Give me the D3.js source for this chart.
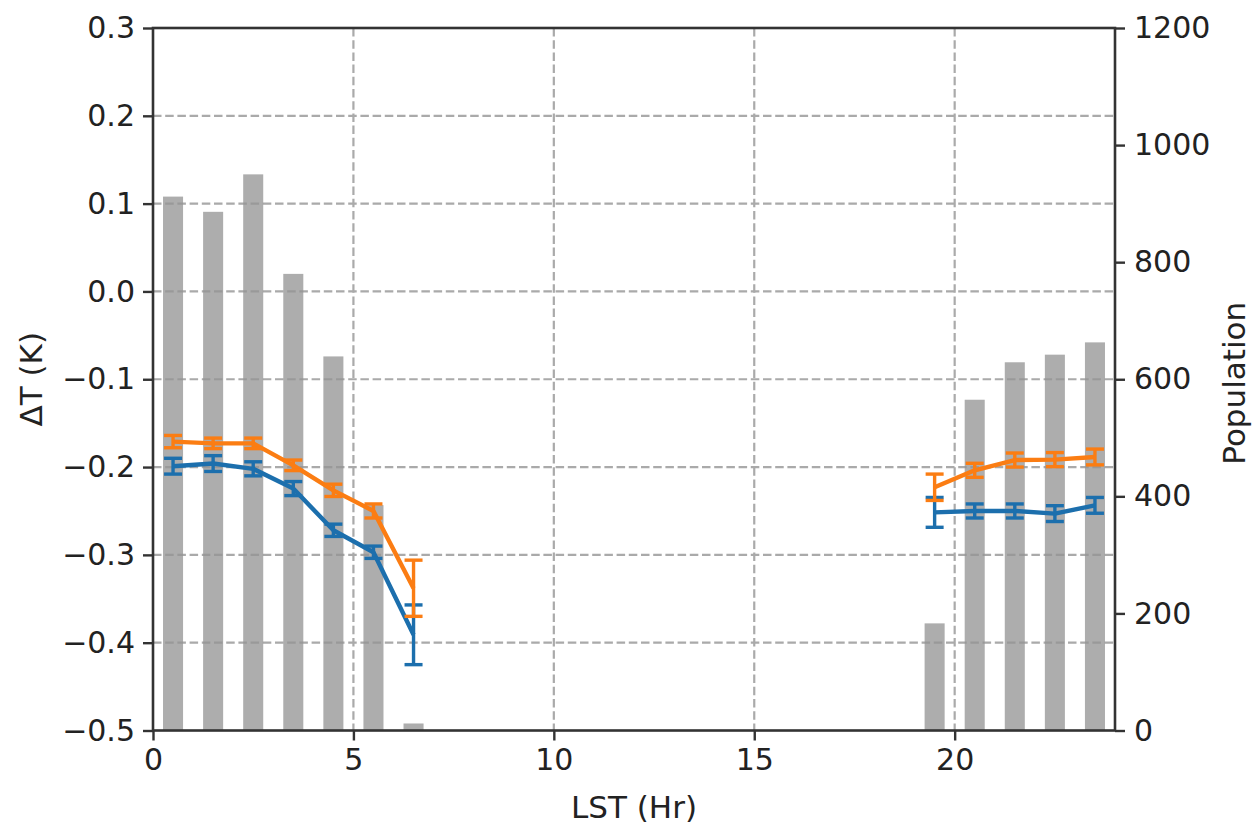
<!DOCTYPE html>
<html>
<head>
<meta charset="utf-8">
<script src="https://cdn.jsdelivr.net/npm/d3@7"></script>
<style>
  html, body { margin: 0; padding: 0; background: #fff; }
  svg { display: block; font-family: "DejaVu Sans", sans-serif; }
</style>
</head>
<body>
<svg id="chart" width="1255" height="829"></svg>
<script>
// ---- data ----
const hours = [0.5, 1.5, 2.5, 3.5, 4.5, 5.5, 6.5, 19.5, 20.5, 21.5, 22.5, 23.5];
const population = [912, 886, 950, 780, 639, 385, 12, 183, 565, 629, 642, 663];
const orangeDT = [-0.171, -0.173, -0.173, -0.198, -0.2265, -0.250, -0.338, -0.223, -0.2037, -0.192, -0.1915, -0.1885];
const orangeErr = [0.007, 0.006, 0.006, 0.006, 0.007, 0.008, 0.032, 0.015, 0.008, 0.008, 0.008, 0.009];
const blueDT = [-0.199, -0.196, -0.202, -0.2245, -0.272, -0.297, -0.391, -0.2516, -0.250, -0.250, -0.253, -0.2436];
const blueErr = [0.009, 0.009, 0.008, 0.008, 0.007, 0.007, 0.034, 0.017, 0.008, 0.008, 0.009, 0.009];
const xTicks = [0, 5, 10, 15, 20];
const yTicks = [-0.5, -0.4, -0.3, -0.2, -0.1, 0.0, 0.1, 0.2, 0.3];
const popTicks = [0, 200, 400, 600, 800, 1000, 1200];

// ---- layout ----
const svg = d3.select("#chart");
const L = 153, R = 1115, T = 28, B = 730.5;
const x = d3.scaleLinear().domain([0, 24]).range([L, R]);
const y = d3.scaleLinear().domain([-0.5, 0.3]).range([B, T]);
const y2 = d3.scaleLinear().domain([0, 1200]).range([B, T]);

svg.append("rect").attr("width", 1255).attr("height", 829).attr("fill", "#fff");

// bars
svg.append("g").selectAll("rect").data(hours).join("rect")
  .attr("x", (d) => x(d - 0.25))
  .attr("width", (d) => x(d + 0.25) - x(d - 0.25))
  .attr("y", (d, i) => y2(population[i]))
  .attr("height", (d, i) => B - y2(population[i]))
  .attr("fill", "#adadad");

// grid
const grid = svg.append("g").attr("stroke", "#959595").attr("stroke-width", 2.2)
  .attr("stroke-dasharray", "8.5,3.7").attr("opacity", 0.8);
grid.selectAll("line.h").data(yTicks.filter(v => v > -0.5 && v < 0.3)).join("line")
  .attr("x1", L).attr("x2", R).attr("y1", d => y(d)).attr("y2", d => y(d));
grid.selectAll("line.v").data(xTicks.filter(v => v > 0)).join("line")
  .attr("y1", T).attr("y2", B).attr("x1", d => x(d)).attr("x2", d => x(d));

// axes
const fs = "30px";
const axB = svg.append("g").attr("transform", `translate(0,${B})`)
  .call(d3.axisBottom(x).tickValues(xTicks).tickFormat(d3.format("d")).tickSize(10).tickPadding(8));
const axL = svg.append("g").attr("transform", `translate(${L},0)`)
  .call(d3.axisLeft(y).tickValues(yTicks).tickFormat(d => d3.format(".1f")(d).replace("-", "\u2212")).tickSize(10).tickPadding(8));
const axR = svg.append("g").attr("transform", `translate(${R},0)`)
  .call(d3.axisRight(y2).tickValues(popTicks).tickFormat(d3.format("d")).tickSize(10).tickPadding(9));
[axB, axL, axR].forEach(a => {
  a.selectAll("text").attr("font-size", fs).attr("fill", "#222").attr("font-family", "DejaVu Sans");
  a.selectAll("line").attr("stroke", "#333").attr("stroke-width", 2.4);
  a.select(".domain").remove();
});
// spines
svg.append("rect").attr("x", L).attr("y", T).attr("width", R - L).attr("height", B - T)
  .attr("fill", "none").attr("stroke", "#333").attr("stroke-width", 2.6);

// series
function drawSeries(vals, errs, color) {
  const g = svg.append("g");
  const segs = [];
  let cur = [];
  hours.forEach((h, i) => {
    if (cur.length && h - hours[i - 1] > 1.5) { segs.push(cur); cur = []; }
    cur.push(i);
  });
  segs.push(cur);
  const line = d3.line().x(i => x(hours[i])).y(i => y(vals[i]));
  segs.forEach(s => g.append("path").attr("d", line(s)).attr("fill", "none")
    .attr("stroke", color).attr("stroke-width", 4.4).attr("stroke-linejoin", "round"));
  const eb = g.append("g").attr("stroke", color).attr("stroke-width", 3.4);
  hours.forEach((h, i) => {
    const cx = x(h), y1 = y(vals[i] - errs[i]), y0 = y(vals[i] + errs[i]);
    eb.append("line").attr("x1", cx).attr("x2", cx).attr("y1", y0).attr("y2", y1);
    eb.append("line").attr("x1", cx - 9).attr("x2", cx + 9).attr("y1", y0).attr("y2", y0);
    eb.append("line").attr("x1", cx - 9).attr("x2", cx + 9).attr("y1", y1).attr("y2", y1);
  });
}
drawSeries(blueDT, blueErr, "#1c6fad");
drawSeries(orangeDT, orangeErr, "#fb7d13");

// labels
svg.append("text").attr("x", (L + R) / 2 + 0).attr("y", 818).attr("text-anchor", "middle")
  .attr("font-size", "31px").attr("fill", "#222").text("LST (Hr)");
svg.append("text").attr("transform", `translate(42,${(T + B) / 2}) rotate(-90)`).attr("text-anchor", "middle")
  .attr("font-size", "31px").attr("fill", "#222").text("ΔT (K)");
svg.append("text").attr("transform", `translate(1245,${(T + B) / 2 + 4}) rotate(-90)`).attr("text-anchor", "middle")
  .attr("font-size", "31px").attr("fill", "#222").text("Population");
</script>
</body>
</html>
